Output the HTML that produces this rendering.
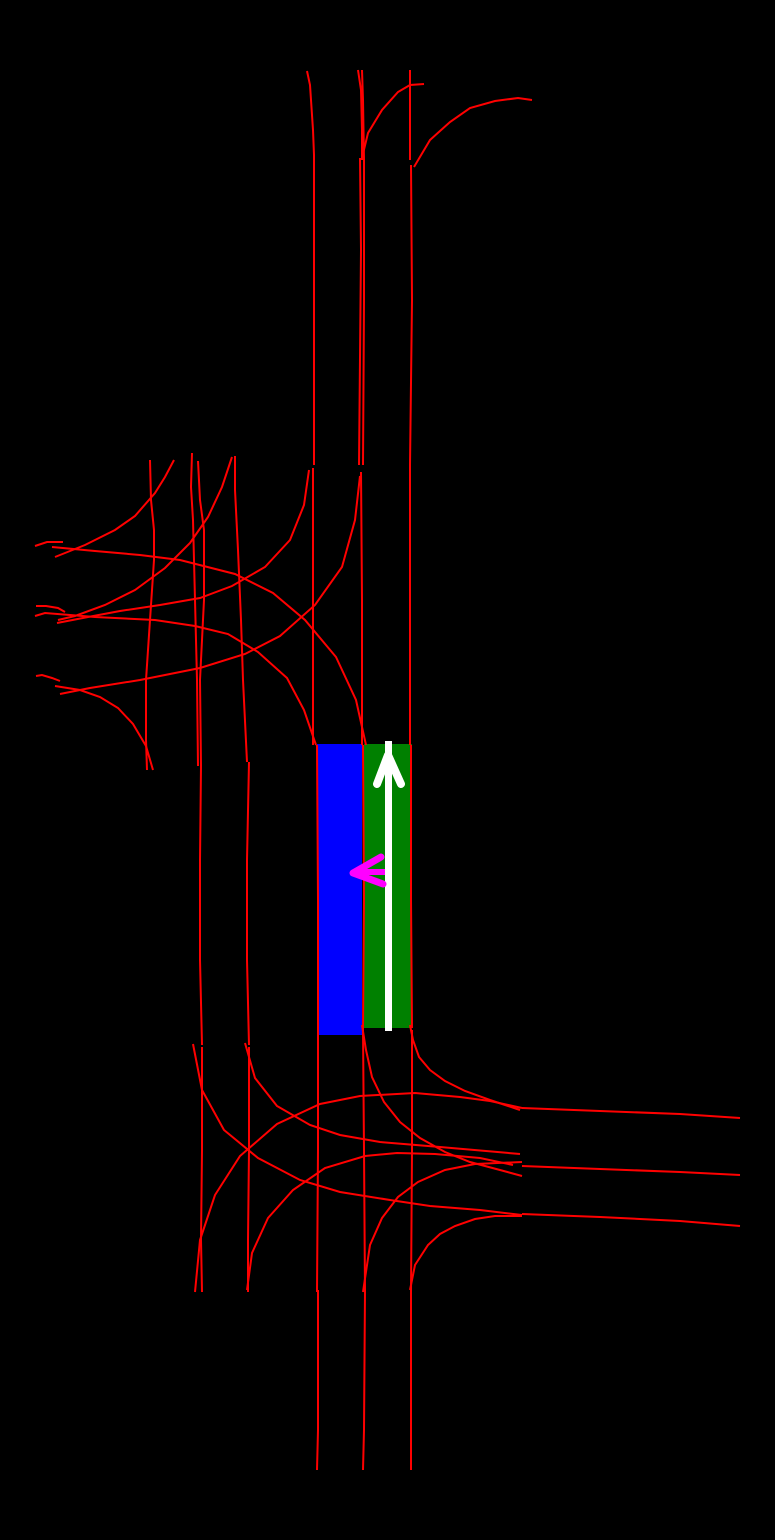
<!DOCTYPE html>
<html><head><meta charset="utf-8"><style>html,body{margin:0;padding:0;background:#000}svg{display:block}</style></head>
<body>
<svg id="map" width="775" height="1540" viewBox="0 0 775 1540" xmlns="http://www.w3.org/2000/svg">
<rect width="775" height="1540" fill="#000"/>
<rect x="317" y="744" width="45" height="291" fill="#0000ff"/>
<rect x="364" y="744" width="48" height="284" fill="#008000"/>
<g id="lanes"></g>
<line x1="388.5" y1="741" x2="388.5" y2="1031" stroke="#fff" stroke-width="7"/>
<polyline points="377,784 388,755 401,784" fill="none" stroke="#fff" stroke-width="8" stroke-linecap="round" stroke-linejoin="round"/>
<polyline points="381,857 353,873 383,884" fill="none" stroke="#ff00ff" stroke-width="7" stroke-linecap="round" stroke-linejoin="round"/>
<line x1="356" y1="872" x2="385" y2="872" stroke="#ff00ff" stroke-width="6"/>
</svg>
<script>
const lanePaths = [
"307,71 310,85 313,130 314,155 314,300 314,465",
"358,70 361,90 362,130 362,160",
"362,70 363,100 364,160 364,300 363,465",
"360,158 361,250 359,465",
"362,158 368,133 382,110 398,92 410,85 424,84",
"410,70 410,160",
"411,165 412,300 410,465",
"414,167 430,140 450,122 470,108 495,101 518,98 532,100",
"313,468 313,600 313,745",
"361,472 362,600 362,745",
"410,465 410,745",
"309,470 304,505 290,540 265,567 232,586 200,598 160,605 120,611 88,617 57,623",
"360,476 355,520 342,567 315,605 280,636 245,654 200,668 140,680 90,688 60,694",
"366,745 356,700 336,657 305,620 273,593 235,574 180,560 140,555 95,551 52,547",
"316,745 304,710 287,678 258,652 228,634 195,626 155,620 95,617 45,613 35,616",
"174,460 165,477 155,493 135,516 115,530 85,545 55,557",
"232,457 222,487 208,517 190,543 165,568 135,590 105,605 75,616 58,620",
"150,460 151,500 154,530 154,560 150,620 146,680 146,740 147,770",
"198,461 200,500 204,530 204,600 200,680 201,766",
"192,453 191,487 193,520 195,600 197,680 198,766",
"235,456 235,490 238,550 241,620 243,680 247,762",
"55,686 80,690 100,697 118,708 133,724 146,746 153,770",
"35,546 47,542 63,542",
"36,606 46,606 58,608 65,612",
"36,676 42,675 52,678 60,681",
"317,745 318,900 318,1035",
"363,745 364,900 363,1030",
"411,745 411,900 412,1028",
"249,762 247,860 247,960 249,1045",
"201,766 200,860 200,960 202,1045",
"193,1044 202,1090 224,1130 258,1158 300,1180 340,1192 390,1200 430,1206 480,1210 522,1215",
"245,1043 255,1078 277,1106 310,1125 340,1135 380,1142 440,1147 520,1154",
"362,1025 366,1050 372,1077 384,1102 400,1122 420,1138 445,1152 470,1162 500,1170 522,1176",
"410,1025 413,1040 419,1057 430,1070 445,1081 465,1091 490,1100 520,1110",
"195,1292 200,1240 215,1195 240,1156 277,1124 320,1104 360,1096 415,1093 460,1097 490,1101 522,1108",
"247,1290 252,1253 268,1218 293,1190 325,1168 365,1156 397,1153 435,1154 480,1158 513,1165",
"363,1292 370,1245 382,1218 398,1197 418,1182 445,1170 475,1164 522,1162",
"410,1290 415,1265 428,1245 440,1234 455,1226 475,1219 495,1216 522,1216",
"202,1047 202,1150 201,1240 202,1292",
"249,1047 249,1150 248,1240 248,1292",
"318,1032 318,1150 317,1292",
"363,1030 364,1150 365,1292",
"412,1030 412,1150 411,1292",
"522,1108 600,1111 680,1114 740,1118",
"522,1166 600,1169 680,1172 740,1175",
"522,1214 600,1217 680,1221 740,1226",
"318,1290 318,1430 317,1470",
"365,1290 364,1430 363,1470",
"411,1290 411,1470"
];
const g = document.getElementById('lanes');
lanePaths.forEach((p, i) => {
  const el = document.createElementNS('http://www.w3.org/2000/svg', 'polyline');
  el.setAttribute('points', p);
  el.setAttribute('fill', 'none');
  el.setAttribute('stroke', '#ff0000');
  el.setAttribute('stroke-width', '2');
  
  
  g.appendChild(el);
});
</script>
</body></html>
